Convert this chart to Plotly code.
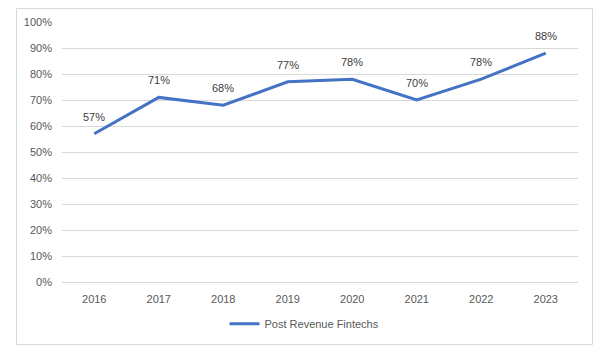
import plotly.graph_objects as go

years = ["2016", "2017", "2018", "2019", "2020", "2021", "2022", "2023"]
values = [0.57, 0.71, 0.68, 0.77, 0.78, 0.70, 0.78, 0.88]
labels = ["57%", "71%", "68%", "77%", "78%", "70%", "78%", "88%"]
series_name = "Post Revenue Fintechs"

W, H = 609, 353
L, R, T, B = 62, 31, 22, 71

fig = go.Figure()
fig.add_trace(go.Scatter(
    x=years, y=values, mode="lines", name=series_name,
    line=dict(color="#4472C4", width=3),
    hoverinfo="skip",
))

# data labels (category index positions on the category axis)
for i, (y, t) in enumerate(zip(values, labels)):
    fig.add_annotation(x=i, y=y, text=t, showarrow=False, yshift=17,
                       xanchor="center", yanchor="middle",
                       font=dict(family="Liberation Sans", size=11, color="#404040"))

# chart border
pw, ph = W - L - R, H - T - B
fig.add_shape(type="rect", xref="paper", yref="paper",
              x0=(16.5 - L) / pw, x1=(592.5 - L) / pw,
              y0=(H - B - 344.5) / ph, y1=(H - B - 8.5) / ph,
              line=dict(color="#d9d9d9", width=1), fillcolor="rgba(0,0,0,0)", layer="below")

fig.update_layout(
    width=W, height=H,
    margin=dict(l=L, r=R, t=T, b=B, pad=0),
    paper_bgcolor="white", plot_bgcolor="white",
    font=dict(family="Liberation Sans", size=11, color="#595959"),
    showlegend=True,
    legend=dict(orientation="h", x=(304.5 - L) / pw, xanchor="center",
                y=(282.3 - 324) / ph, yanchor="middle",
                font=dict(size=11, color="#595959"), bgcolor="rgba(0,0,0,0)"),
    xaxis=dict(type="category", categoryorder="array", categoryarray=years,
               range=[-0.5, len(years) - 0.5],
               showgrid=False, showline=False, zeroline=False,
               ticks="", ticklabelstandoff=9, tickfont=dict(size=11, color="#595959")),
    yaxis=dict(range=[0, 1.0], dtick=0.1, tickformat=".0%", showgrid=True, gridcolor="#d9d9d9",
               gridwidth=1, zeroline=True, zerolinecolor="#d9d9d9", zerolinewidth=1,
               showline=False, ticks="", ticklabelstandoff=9, tickfont=dict(size=11, color="#595959")),
)

fig.write_html("out.html")
